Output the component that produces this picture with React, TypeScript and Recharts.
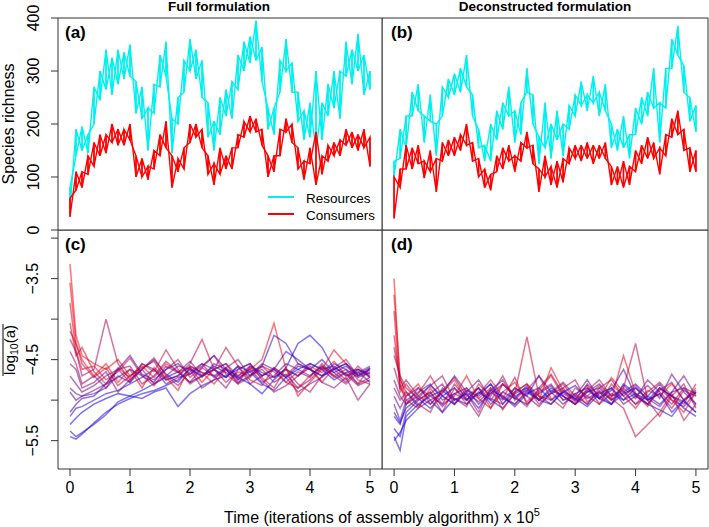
import { Line, LineChart, ReferenceArea, XAxis, YAxis } from "recharts"

// ---- data ----

// time axis (x 10^5 iterations) for the richness panels
const TIME_TOP = [
  0, 0.1, 0.2, 0.3, 0.4, 0.5, 0.6, 0.7, 0.8, 0.9, 1.0, 1.1, 1.2, 1.3, 1.4, 1.5, 1.6,
  1.7, 1.8, 1.9, 2.0, 2.1, 2.2, 2.3, 2.4, 2.5, 2.6, 2.7, 2.8, 2.9, 3.0, 3.1, 3.2, 3.3,
  3.4, 3.5, 3.6, 3.7, 3.8, 3.9, 4.0, 4.1, 4.2, 4.3, 4.4, 4.5, 4.6, 4.7, 4.8, 4.9, 5.0,
]

// (a) full formulation: lower / upper edge of the noisy trace at each time
const resourcesFullLo = [
  40, 140, 150, 145, 200, 245, 265, 255, 275, 285, 290, 220, 210, 150, 220, 270, 290,
  145, 200, 260, 300, 285, 250, 175, 150, 180, 215, 210, 265, 300, 315, 320, 280, 190,
  180, 260, 300, 260, 205, 170, 175, 150, 170, 215, 230, 210, 290, 275, 300, 255, 265,
]
const resourcesFullHi = [
  80, 190, 195, 180, 270, 300, 340, 325, 340, 335, 350, 280, 270, 230, 275, 330, 355,
  210, 250, 320, 360, 340, 320, 240, 205, 250, 265, 280, 330, 355, 365, 395, 345, 230,
  230, 320, 360, 315, 260, 225, 240, 300, 240, 275, 300, 300, 355, 340, 370, 330, 300,
]
const consumersFullLo = [
  25, 75, 80, 105, 120, 140, 145, 165, 160, 160, 170, 100, 100, 95, 115, 140, 155,
  80, 110, 115, 165, 175, 155, 105, 85, 105, 115, 115, 155, 175, 185, 185, 160, 100,
  110, 140, 185, 165, 115, 95, 125, 85, 105, 130, 140, 140, 160, 155, 150, 155, 120,
]
const consumersFullHi = [
  60, 110, 110, 140, 165, 180, 180, 200, 190, 190, 200, 140, 135, 120, 150, 180, 205,
  140, 135, 155, 200, 200, 190, 140, 125, 155, 140, 155, 180, 205, 215, 210, 190, 140,
  140, 190, 210, 200, 155, 130, 155, 185, 140, 160, 165, 170, 190, 185, 180, 190, 175,
]

// (b) deconstructed formulation
const resourcesDeconLo = [
  100, 135, 155, 215, 225, 165, 205, 140, 215, 250, 255, 260, 270, 215, 155, 130, 130,
  170, 190, 215, 165, 180, 260, 200, 125, 155, 135, 170, 140, 190, 215, 235, 225, 240,
  215, 225, 155, 150, 155, 135, 180, 200, 215, 230, 165, 230, 305, 330, 260, 205, 185,
]
const resourcesDeconHi = [
  130, 190, 215, 260, 275, 215, 255, 200, 270, 285, 295, 305, 330, 255, 190, 160, 200,
  225, 240, 270, 225, 240, 305, 255, 175, 240, 200, 225, 200, 235, 255, 280, 255, 290,
  260, 275, 200, 190, 215, 180, 230, 250, 260, 305, 240, 305, 360, 385, 310, 250, 235,
]
const consumersDeconLo = [
  22, 80, 115, 115, 125, 98, 110, 72, 130, 140, 140, 150, 160, 130, 100, 80, 75,
  110, 115, 130, 110, 130, 155, 125, 72, 100, 85, 80, 90, 125, 135, 130, 135, 125,
  135, 135, 85, 85, 80, 85, 110, 125, 135, 135, 105, 140, 175, 180, 150, 110, 110,
]
const consumersDeconHi = [
  100, 115, 160, 155, 160, 130, 150, 135, 165, 170, 175, 180, 200, 165, 135, 115, 105,
  140, 155, 160, 140, 165, 185, 160, 115, 140, 120, 130, 135, 155, 160, 160, 165, 160,
  160, 165, 120, 120, 130, 120, 150, 160, 175, 165, 155, 180, 210, 225, 190, 155, 150,
]

// time axis for the log10(a) panels
const TIME_BOTTOM = [
  0, 0.1, 0.2, 0.4, 0.6, 0.8, 1.0, 1.2, 1.4, 1.6, 1.8, 2.0, 2.2, 2.4, 2.6, 2.8, 3.0,
  3.2, 3.4, 3.6, 3.8, 4.0, 4.2, 4.4, 4.6, 4.8, 5.0,
]

// (c) mean log10(a) per replicate, ordered from red (high start) to blue (low start)
const logAFull = [
  [-3.32, -4.2, -4.45, -4.55, -4.62, -4.5, -4.7, -4.58, -4.72, -4.55, -4.65, -4.6, -4.78, -4.62, -4.55, -4.7, -4.62, -4.5, -4.05, -4.62, -4.7, -4.58, -4.66, -4.52, -4.7, -4.62, -4.68],
  [-3.55, -4.3, -4.5, -4.7, -4.55, -4.78, -4.62, -4.85, -4.6, -4.72, -4.88, -4.58, -4.66, -4.8, -4.62, -4.75, -4.6, -4.72, -4.85, -4.6, -4.95, -4.78, -4.62, -4.38, -4.55, -4.75, -4.8],
  [-3.8, -4.4, -4.62, -4.58, -4.75, -4.65, -4.48, -4.7, -4.82, -4.62, -4.5, -4.72, -4.6, -4.45, -4.68, -4.8, -4.72, -4.58, -4.65, -4.78, -4.85, -4.7, -4.58, -4.72, -4.66, -4.8, -4.6],
  [-4.05, -4.45, -4.35, -4.65, -4.8, -4.6, -4.72, -4.55, -4.65, -4.38, -4.62, -4.8, -4.7, -4.62, -4.35, -4.58, -4.75, -4.82, -4.6, -4.7, -4.55, -4.62, -4.78, -4.6, -4.5, -4.7, -4.65],
  [-4.15, -4.3, -4.55, -4.72, -4.6, -4.82, -4.7, -4.6, -4.52, -4.75, -4.7, -4.55, -4.25, -4.62, -4.78, -4.65, -4.7, -4.58, -4.72, -4.62, -4.8, -4.9, -4.7, -4.62, -4.75, -4.58, -4.72],
  [-4.25, -4.4, -4.7, -4.62, -4.0, -4.55, -4.75, -4.62, -4.48, -4.7, -4.82, -4.65, -4.55, -4.72, -4.62, -4.8, -4.58, -4.7, -4.62, -4.78, -4.65, -4.72, -4.55, -4.7, -4.8, -4.66, -4.58],
  [-4.4, -4.55, -4.8, -4.7, -4.85, -4.62, -4.58, -4.8, -4.7, -4.52, -4.65, -4.78, -4.6, -4.7, -4.85, -4.62, -4.55, -4.75, -4.9, -4.82, -4.7, -4.6, -4.78, -4.85, -4.72, -5.0, -4.8],
  [-4.55, -4.62, -4.85, -4.78, -4.65, -4.9, -4.75, -4.62, -4.8, -4.7, -4.58, -4.62, -4.85, -4.75, -4.6, -4.5, -4.7, -4.62, -4.78, -4.68, -4.85, -4.75, -4.6, -4.7, -4.62, -4.8, -4.72],
  [-4.7, -4.8, -4.9, -4.82, -4.7, -4.62, -4.78, -4.55, -4.62, -4.8, -4.72, -4.68, -4.55, -4.62, -4.72, -4.58, -4.8, -4.7, -4.6, -4.72, -4.9, -4.8, -4.72, -4.6, -4.68, -4.82, -4.75],
  [-4.85, -4.92, -4.95, -4.88, -4.8, -4.72, -4.62, -4.7, -4.78, -4.58, -4.66, -4.52, -4.7, -4.62, -4.55, -4.75, -4.62, -4.78, -4.7, -4.55, -4.62, -4.7, -4.58, -4.66, -4.78, -4.62, -4.7],
  [-4.9, -5.0, -4.95, -4.92, -4.85, -4.7, -4.78, -4.62, -4.5, -4.68, -4.78, -4.6, -4.72, -4.55, -4.62, -4.7, -4.58, -4.66, -4.72, -4.62, -4.7, -4.55, -4.62, -4.58, -4.7, -4.65, -4.78],
  [-5.15, -5.05, -4.98, -4.95, -4.8, -4.62, -4.45, -4.68, -4.75, -4.62, -4.55, -4.68, -4.58, -4.45, -4.62, -4.78, -4.7, -4.55, -4.62, -4.4, -4.5, -4.62, -4.7, -4.55, -4.62, -4.72, -4.66],
  [-5.2, -5.1, -5.08, -5.0, -4.92, -4.88, -4.8, -4.72, -4.62, -4.75, -4.7, -4.58, -4.66, -4.7, -4.6, -4.72, -4.65, -4.58, -4.2, -4.3, -4.55, -4.62, -4.5, -4.66, -4.58, -4.7, -4.62],
  [-5.38, -5.45, -5.4, -5.3, -5.18, -5.02, -4.95, -4.98, -4.9, -4.85, -5.08, -4.92, -4.82, -4.75, -4.7, -4.62, -4.55, -4.7, -4.62, -4.72, -4.58, -4.62, -4.7, -4.62, -4.55, -4.68, -4.6],
  [-5.45, -5.48, -5.42, -5.28, -5.15, -5.05, -4.98, -4.92, -4.88, -4.82, -4.75, -4.62, -4.7, -4.58, -4.66, -4.72, -4.8, -4.92, -4.75, -4.6, -4.3, -4.2, -4.35, -4.62, -4.55, -4.7, -4.62],
  [-5.3, -5.22, -5.15, -5.05, -4.98, -4.92, -4.95, -4.88, -4.8, -4.72, -4.65, -4.78, -4.7, -4.62, -4.72, -4.58, -4.65, -4.8, -4.88, -4.72, -4.62, -4.55, -4.62, -4.75, -4.66, -4.62, -4.72],
]

// (d) deconstructed formulation
const logADecon = [
  [-3.5, -4.85, -4.95, -4.8, -5.05, -4.9, -4.75, -5.0, -4.85, -5.1, -4.9, -4.78, -5.02, -4.88, -4.7, -4.95, -5.05, -4.85, -4.98, -4.72, -4.9, -5.05, -4.88, -4.95, -4.8, -5.0, -4.85],
  [-3.7, -4.7, -5.0, -5.1, -4.85, -5.05, -4.95, -4.7, -4.98, -4.85, -5.12, -4.9, -4.8, -5.0, -4.6, -4.88, -5.05, -4.95, -4.82, -4.98, -4.45, -4.92, -5.08, -4.85, -5.0, -5.15, -4.9],
  [-3.9, -4.9, -4.8, -5.0, -4.9, -5.15, -4.85, -5.05, -4.92, -4.75, -4.95, -5.05, -4.88, -4.7, -4.98, -5.1, -4.85, -4.95, -5.05, -4.8, -4.95, -5.1, -4.9, -4.78, -4.95, -5.05, -4.8],
  [-4.2, -4.8, -5.05, -4.92, -4.7, -4.95, -5.05, -4.85, -4.98, -5.1, -4.8, -4.92, -4.22, -4.95, -5.0, -4.85, -4.75, -5.02, -4.9, -4.98, -5.1, -5.45, -5.3, -5.15, -4.92, -5.25, -5.05],
  [-4.35, -4.75, -4.9, -5.05, -5.15, -4.85, -4.98, -5.08, -4.8, -4.95, -4.7, -5.0, -4.85, -5.05, -4.92, -4.8, -5.0, -4.88, -4.75, -4.95, -4.85, -4.3, -5.0, -4.92, -5.1, -4.88, -4.95],
  [-4.45, -4.7, -4.85, -4.98, -4.82, -4.7, -5.0, -4.92, -5.15, -4.85, -4.98, -4.72, -5.05, -4.9, -4.8, -5.0, -4.92, -5.05, -4.85, -4.75, -4.95, -4.82, -5.0, -5.2, -4.95, -4.8, -5.1],
  [-4.6, -4.85, -4.75, -4.95, -5.05, -4.88, -4.72, -4.95, -4.85, -5.0, -4.8, -4.95, -5.08, -4.85, -4.68, -4.92, -5.0, -4.8, -4.95, -5.05, -4.85, -4.98, -4.75, -4.9, -5.05, -4.85, -4.92],
  [-4.75, -4.95, -5.05, -4.85, -4.95, -5.05, -4.8, -4.98, -5.2, -4.9, -5.0, -4.85, -4.95, -5.08, -4.9, -4.78, -4.95, -5.05, -4.88, -5.0, -4.82, -4.95, -5.05, -4.88, -4.78, -5.0, -4.9],
  [-4.85, -5.0, -4.9, -5.08, -4.92, -4.8, -5.05, -4.9, -4.75, -4.98, -5.05, -4.9, -4.8, -4.95, -5.05, -4.88, -4.98, -4.82, -5.05, -4.92, -5.0, -4.85, -4.98, -5.08, -4.9, -4.7, -4.95],
  [-4.95, -5.1, -4.95, -4.85, -5.0, -4.92, -4.7, -4.9, -5.02, -4.88, -4.75, -4.98, -5.05, -4.92, -4.82, -5.0, -4.95, -4.75, -4.98, -4.85, -5.05, -4.95, -4.82, -4.98, -4.68, -4.9, -5.05],
  [-5.05, -5.25, -5.0, -4.9, -4.8, -5.0, -4.92, -4.85, -5.05, -4.92, -4.8, -4.95, -4.88, -5.0, -4.92, -4.85, -5.02, -4.9, -4.8, -4.95, -4.88, -5.05, -4.95, -4.8, -5.0, -5.08, -4.9],
  [-5.2, -5.3, -5.05, -4.95, -4.82, -4.95, -5.05, -4.88, -4.95, -4.8, -5.05, -4.85, -4.95, -4.7, -4.9, -5.05, -4.92, -4.85, -4.98, -4.88, -4.62, -4.95, -5.05, -4.85, -4.95, -5.02, -5.15],
  [-5.35, -5.45, -5.15, -5.0, -4.9, -5.08, -4.92, -5.0, -4.85, -5.05, -4.9, -4.98, -4.82, -5.0, -4.88, -4.95, -5.05, -4.9, -4.85, -5.0, -4.9, -4.8, -4.95, -5.05, -4.9, -4.85, -5.05],
  [-5.45, -5.62, -5.2, -5.05, -4.95, -4.88, -5.0, -4.92, -5.1, -4.88, -4.95, -5.08, -4.92, -4.85, -5.0, -4.9, -4.82, -4.98, -4.9, -5.05, -4.92, -4.85, -5.0, -4.92, -5.15, -5.0, -4.88],
  [-5.5, -5.4, -5.25, -5.1, -5.0, -5.15, -4.98, -5.05, -4.9, -5.0, -5.1, -4.92, -4.85, -5.0, -5.05, -4.9, -4.98, -5.08, -4.92, -4.85, -5.0, -4.92, -5.05, -5.12, -5.2, -5.0, -5.15],
  [-5.15, -5.28, -5.1, -4.98, -5.1, -4.95, -4.85, -5.0, -4.92, -4.8, -4.98, -5.05, -4.9, -5.0, -4.85, -4.95, -5.05, -4.88, -4.98, -5.05, -4.8, -4.92, -5.0, -4.85, -4.95, -5.1, -5.2],
]

const RICHNESS_TICKS = [0, 100, 200, 300, 400]
const LOGA_TICKS = [-5.5, -5, -4.5, -4, -3.5, -3]
const LOGA_LABELLED = [-5.5, -4.5, -3.5]
const TIME_TICKS = [0, 1, 2, 3, 4, 5]

// ---- styling ----
const FONT = '"Liberation Sans", Arial, Helvetica, sans-serif'
const FRAME = "#333"
const CYAN = "#00f0f0"
const RED = "#ff0000"
const X_DOMAIN: [number, number] = [-0.2, 5.2]
const DRAW_ORDER = [0, 8, 15, 4, 12, 2, 10, 6, 14, 1, 9, 5, 13, 3, 11, 7]

// replicate colour: red -> purple -> blue, semi-transparent
function replicateColor(i: number, n: number) {
  const k = i / (n - 1)
  return `rgba(${Math.round(255 * (1 - k))},0,${Math.round(255 * k)},0.55)`
}

// noisy trace: low/high pair at each time step, in either order
function toTrace(lo: number[], hi: number[], flip: boolean) {
  return TIME_TOP.flatMap((t, i) =>
    flip ? [{ t, v: hi[i] }, { t, v: lo[i] }] : [{ t, v: lo[i] }, { t, v: hi[i] }],
  )
}

function toSeries(vals: number[]) {
  return TIME_BOTTOM.map((t, i) => ({ t, v: vals[i] }))
}

const fmtMinus = (v: number) => String(v).replace("-", "\u2212")

/** R-style y tick: label rotated parallel to the axis. */
function RotatedTick(props: any) {
  const { y, payload, shown } = props
  const v = payload.value as number
  if (shown && !shown.includes(v)) return null
  return (
    <text
      x={33}
      y={y}
      transform={`rotate(-90 33 ${y})`}
      textAnchor="middle"
      dominantBaseline="central"
      fontSize={16}
      fontFamily={FONT}
      fill="#000"
    >
      {fmtMinus(v)}
    </text>
  )
}

function RichnessPanel({ left, showAxis, resLo, resHi, conLo, conHi }: {
  left: number
  showAxis: boolean
  resLo: number[]
  resHi: number[]
  conLo: number[]
  conHi: number[]
}) {
  const width = showAxis ? 383 : 327
  const traces = [
    { key: "res0", data: toTrace(resLo, resHi, false), color: CYAN },
    { key: "res1", data: toTrace(resLo, resHi, true), color: CYAN },
    { key: "con0", data: toTrace(conLo, conHi, false), color: RED },
    { key: "con1", data: toTrace(conLo, conHi, true), color: RED },
  ]
  return (
    <div style={{ position: "absolute", left, top: 0 }}>
      <LineChart width={width} height={242} margin={{ top: 18, right: 1, bottom: 12, left: 0 }}>
        <XAxis type="number" dataKey="t" domain={X_DOMAIN} hide allowDuplicatedCategory />
        <YAxis
          type="number"
          domain={[0, 400]}
          ticks={RICHNESS_TICKS}
          width={58}
          hide={!showAxis}
          axisLine={false}
          tickSize={7}
          tickLine={{ stroke: FRAME }}
          tick={<RotatedTick />}
          interval={0}
        />
        <ReferenceArea x1={X_DOMAIN[0]} x2={X_DOMAIN[1]} y1={0} y2={400} fill="none" stroke={FRAME} />
        {traces.map((tr) => (
          <Line
            key={tr.key}
            data={tr.data}
            dataKey="v"
            stroke={tr.color}
            strokeWidth={1.4}
            dot={false}
            activeDot={false}
            isAnimationActive={false}
          />
        ))}
      </LineChart>
    </div>
  )
}

function LogAPanel({ left, showAxis, rows }: { left: number; showAxis: boolean; rows: number[][] }) {
  const width = showAxis ? 383 : 327
  return (
    <div style={{ position: "absolute", left, top: 230 }}>
      <LineChart width={width} height={266} margin={{ top: 0, right: 1, bottom: 0, left: 0 }}>
        <XAxis
          type="number"
          dataKey="t"
          domain={X_DOMAIN}
          ticks={TIME_TICKS}
          interval={0}
          height={27}
          axisLine={false}
          tickSize={7}
          tickMargin={6}
          tickLine={{ stroke: FRAME }}
          tick={{ fontSize: 16, fill: "#000", fontFamily: FONT }}
          allowDuplicatedCategory
        />
        <YAxis
          type="number"
          domain={[-5.85, -2.9]}
          ticks={LOGA_TICKS}
          width={58}
          hide={!showAxis}
          axisLine={false}
          tickSize={7}
          tickLine={{ stroke: FRAME }}
          tick={<RotatedTick shown={LOGA_LABELLED} />}
          interval={0}
        />
        <ReferenceArea x1={X_DOMAIN[0]} x2={X_DOMAIN[1]} y1={-5.85} y2={-2.9} fill="none" stroke={FRAME} />
        {DRAW_ORDER.map((i) => (
          <Line
            key={i}
            data={toSeries(rows[i])}
            dataKey="v"
            stroke={replicateColor(i, rows.length)}
            strokeWidth={1.5}
            dot={false}
            activeDot={false}
            isAnimationActive={false}
          />
        ))}
      </LineChart>
    </div>
  )
}

export default function App() {
  const txt = { fontFamily: FONT, fill: "#000" }
  return (
    <div style={{ position: "absolute", left: 0, top: 0, width: 709, height: 527, background: "#fff", overflow: "hidden" }}>
      <LogAPanel left={0} showAxis rows={logAFull} />
      <LogAPanel left={382} showAxis={false} rows={logADecon} />
      <RichnessPanel left={0} showAxis resLo={resourcesFullLo} resHi={resourcesFullHi} conLo={consumersFullLo} conHi={consumersFullHi} />
      <RichnessPanel left={382} showAxis={false} resLo={resourcesDeconLo} resHi={resourcesDeconHi} conLo={consumersDeconLo} conHi={consumersDeconHi} />

      {/* titles, panel letters, legend and axis titles */}
      <svg width={709} height={527} style={{ position: "absolute", left: 0, top: 0, pointerEvents: "none" }}>
        <text x={219} y={11} textAnchor="middle" fontSize={13.5} fontWeight="bold" {...txt}>Full formulation</text>
        <text x={545} y={11} textAnchor="middle" fontSize={13.5} fontWeight="bold" {...txt}>Deconstructed formulation</text>

        <text x={65} y={38} fontSize={17} fontWeight="bold" {...txt}>(a)</text>
        <text x={391} y={38} fontSize={17} fontWeight="bold" {...txt}>(b)</text>
        <text x={65} y={250} fontSize={17} fontWeight="bold" {...txt}>(c)</text>
        <text x={391} y={250} fontSize={17} fontWeight="bold" {...txt}>(d)</text>

        <line x1={268} x2={294} y1={197} y2={197} stroke={CYAN} strokeWidth={2} />
        <text x={306} y={203} fontSize={13.5} {...txt}>Resources</text>
        <line x1={268} x2={294} y1={214} y2={214} stroke={RED} strokeWidth={2} />
        <text x={306} y={220} fontSize={13.5} {...txt}>Consumers</text>

        <text transform="translate(14,124) rotate(-90)" textAnchor="middle" fontSize={16} {...txt}>Species richness</text>
        <g transform="translate(15,350) rotate(-90)">
          <text textAnchor="middle" fontSize={15} {...txt}>
            log<tspan fontSize={10.5} dy={3}>10</tspan>
            <tspan dy={-3}>(a)</tspan>
          </text>
          <line x1={-26} x2={26} y1={-12} y2={-12} stroke="#000" strokeWidth={1} />
        </g>

        <text x={382} y={523} textAnchor="middle" fontSize={16} {...txt}>
          Time (iterations of assembly algorithm)  x 10<tspan fontSize={11} dy={-7}>5</tspan>
        </text>
      </svg>
    </div>
  )
}
